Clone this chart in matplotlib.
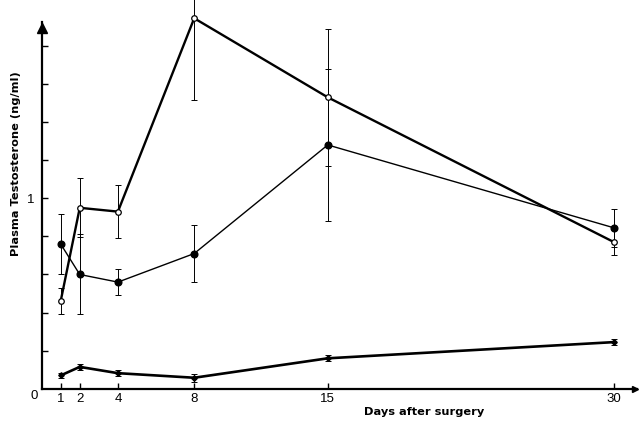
import numpy as np
import matplotlib
matplotlib.use("Agg")
import matplotlib.pyplot as plt

plt.rcParams['font.family'] = ['Liberation Sans', 'DejaVu Sans']

# sampling days after surgery
days = [1, 2, 4, 8, 15, 30]

# plasma testosterone (ng/ml), mean and error for each group
open_mean = [0.46, 0.95, 0.93, 1.945, 1.53, 0.77]
open_err = [0.07, 0.155, 0.14, 0.43, 0.36, 0.07]

filled_mean = [0.76, 0.60, 0.56, 0.71, 1.28, 0.845]
filled_err = [0.155, 0.21, 0.068, 0.15, 0.40, 0.10]

low_mean = [0.07, 0.115, 0.082, 0.058, 0.16, 0.245]
low_err = [0.015, 0.015, 0.015, 0.02, 0.015, 0.015]

x_ticks = [1, 2, 4, 8, 15, 30]
y_ticks = [0.2, 0.4, 0.6, 0.8, 1.0, 1.2, 1.4, 1.6, 1.8]
y_ticklabels = ['', '', '', '', '1', '', '', '', '']

fig = plt.figure(figsize=(6.4, 4.21), dpi=100)
ax = fig.add_axes([0.065, 0.0765, 0.930, 0.872])

xmax, ymax = 31.2, 1.927
ax.set_xlim(0, xmax)
ax.set_ylim(0, ymax)

err_kw = dict(fmt='none', ecolor='black', elinewidth=0.7, capsize=2,
              capthick=0.7, clip_on=False, zorder=2)
ax.errorbar(days, open_mean, yerr=open_err, **err_kw)
ax.errorbar(days, filled_mean, yerr=filled_err, **err_kw)
ax.errorbar(days, low_mean, yerr=low_err, **err_kw)

ax.plot(days, filled_mean, color='black', lw=1.0, marker='o', ms=4.8,
        mfc='black', mec='black', zorder=3, clip_on=False)
ax.plot(days, open_mean, color='black', lw=1.7, marker='o', ms=4.0,
        mfc='white', mec='black', mew=0.9, zorder=4, clip_on=False)
ax.plot(days, low_mean, color='black', lw=1.9, marker='D', ms=2.8,
        mfc='black', mec='black', zorder=4, clip_on=False)

for side in ['top', 'right']:
    ax.spines[side].set_visible(False)
for side in ['left', 'bottom']:
    ax.spines[side].set_linewidth(1.6)

# arrow heads on the axes
ax.plot(0, ymax - 0.035, marker='^', ms=7, color='black', clip_on=False, zorder=5)
ax.plot(xmax - 0.1, 0, marker='>', ms=5, color='black', clip_on=False, zorder=5)

ax.set_xticks(x_ticks)
ax.set_xticklabels([str(d) for d in x_ticks])
ax.set_yticks(y_ticks)
ax.set_yticklabels(y_ticklabels)
ax.tick_params(axis='both', direction='in', length=4, width=1.0,
               labelsize=9.5, pad=3)
ax.tick_params(axis='y', pad=5)

ax.text(-0.012, -0.004, '0', transform=ax.transAxes, ha='center', va='top',
        fontsize=9.5)

label_font = dict(family='DejaVu Sans', fontweight='bold', fontsize=8.2)
fig.text(424.5 / 640, 1 - 412 / 421, 'Days after surgery', ha='center',
         va='center', **label_font)
fig.text(16 / 640, 1 - 163.5 / 421, 'Plasma Testosterone (ng/ml)',
         rotation=90, ha='center', va='center', **label_font)

fig.savefig('out.png', dpi=100)
